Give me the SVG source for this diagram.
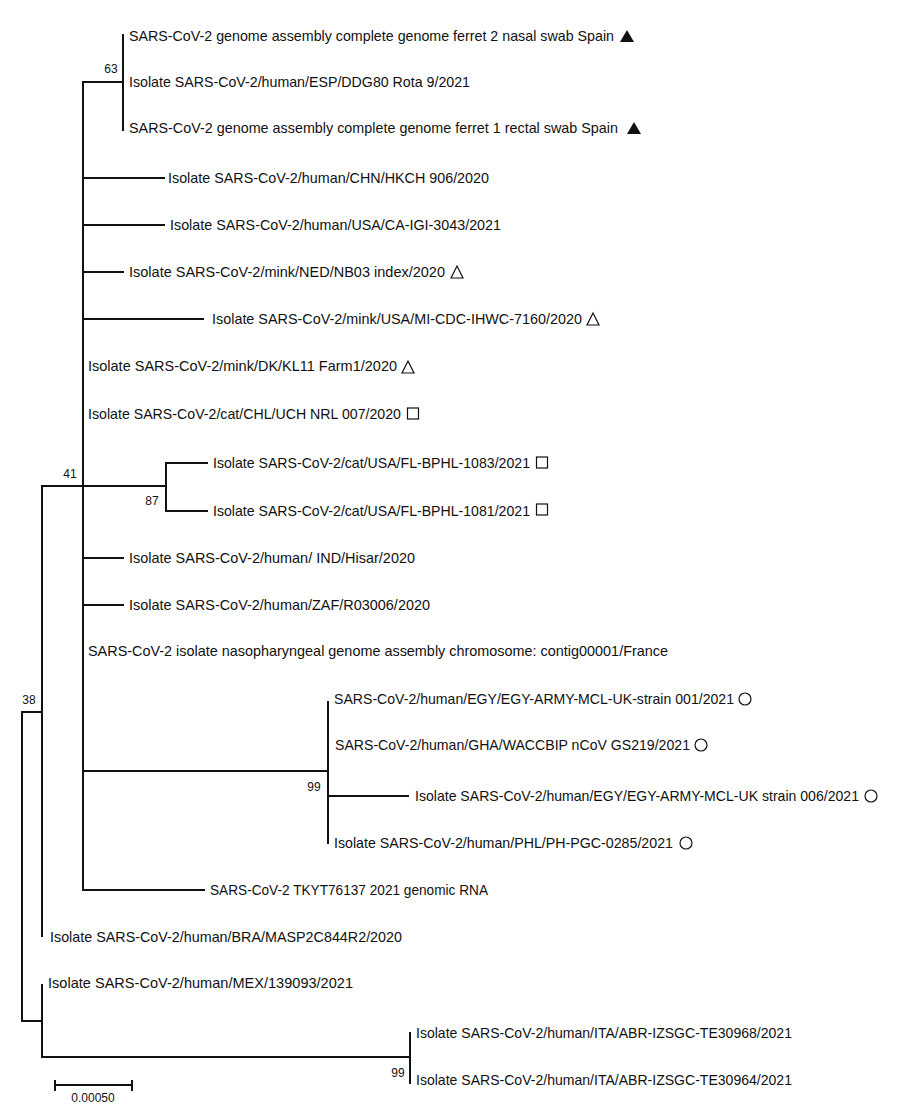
<svg xmlns="http://www.w3.org/2000/svg" width="900" height="1118" viewBox="0 0 900 1118">
<style>
.lbl{font-family:"Liberation Sans",Arial,sans-serif;font-size:14.3px;fill:#111}
.bs{font-family:"Liberation Sans",Arial,sans-serif;font-size:12px;fill:#111;text-anchor:middle}
.br{fill:none;stroke:#111;stroke-width:2;stroke-linecap:square}
.mf{fill:#111}
.mo{fill:none;stroke:#111;stroke-width:1.2}
</style>
<rect width="900" height="1118" fill="#fff"/>
<g id="connectors" class="br">
<path d="M22,712V1021M22,712H42M22,1021H42"/>
<path d="M42,486V936M42,486H83"/>
<path d="M83,82V890M83,82H123M123,35V130"/>
<path d="M83,178H164M83,225H164M83,272H123M83,319H203"/>
<path d="M83,486H166M166,463V511M166,463H207M166,511H207"/>
<path d="M83,558H123M83,605H123"/>
<path d="M83,771H328M328,702V843M328,796H408"/>
<path d="M83,890H204"/>
<path d="M42,985V1057M42,1057H410M410,1033V1083"/>
</g>
<g id="bootstrap">
<text class="bs" x="111" y="73">63</text>
<text class="bs" x="70" y="478">41</text>
<text class="bs" x="152" y="505">87</text>
<text class="bs" x="29" y="704">38</text>
<text class="bs" x="314" y="791">99</text>
<text class="bs" x="398" y="1077">99</text>
</g>
<g id="leaf-ferret2"><text class="lbl" x="129" y="41" textLength="485" lengthAdjust="spacingAndGlyphs">SARS-CoV-2 genome assembly complete genome ferret 2 nasal swab Spain</text><polygon class="mf" points="620,42 634,42 627,30"/></g>
<g id="leaf-esp"><text class="lbl" x="129" y="87" textLength="341" lengthAdjust="spacingAndGlyphs">Isolate SARS-CoV-2/human/ESP/DDG80 Rota 9/2021</text></g>
<g id="leaf-ferret1"><text class="lbl" x="129" y="133" textLength="489" lengthAdjust="spacingAndGlyphs">SARS-CoV-2 genome assembly complete genome ferret 1 rectal swab Spain</text><polygon class="mf" points="627,134 641,134 634,122"/></g>
<g id="leaf-chn"><text class="lbl" x="168" y="183" textLength="321" lengthAdjust="spacingAndGlyphs">Isolate SARS-CoV-2/human/CHN/HKCH 906/2020</text></g>
<g id="leaf-usa-ca"><text class="lbl" x="170" y="230" textLength="331" lengthAdjust="spacingAndGlyphs">Isolate SARS-CoV-2/human/USA/CA-IGI-3043/2021</text></g>
<g id="leaf-ned"><text class="lbl" x="129" y="277" textLength="316" lengthAdjust="spacingAndGlyphs">Isolate SARS-CoV-2/mink/NED/NB03 index/2020</text><polygon class="mo" points="451,278 463,278 457,266"/></g>
<g id="leaf-mi"><text class="lbl" x="212" y="324" textLength="370" lengthAdjust="spacingAndGlyphs">Isolate SARS-CoV-2/mink/USA/MI-CDC-IHWC-7160/2020</text><polygon class="mo" points="587,325 599,325 593,313"/></g>
<g id="leaf-dk"><text class="lbl" x="88" y="371" textLength="309" lengthAdjust="spacingAndGlyphs">Isolate SARS-CoV-2/mink/DK/KL11 Farm1/2020</text><polygon class="mo" points="402,373 414,373 408,361"/></g>
<g id="leaf-chl"><text class="lbl" x="88" y="419" textLength="313" lengthAdjust="spacingAndGlyphs">Isolate SARS-CoV-2/cat/CHL/UCH NRL 007/2020</text><rect class="mo" x="407.5" y="408" width="11" height="11"/></g>
<g id="leaf-fl1083"><text class="lbl" x="213" y="468" textLength="317" lengthAdjust="spacingAndGlyphs">Isolate SARS-CoV-2/cat/USA/FL-BPHL-1083/2021</text><rect class="mo" x="536.5" y="457" width="11" height="11"/></g>
<g id="leaf-fl1081"><text class="lbl" x="213" y="516" textLength="317" lengthAdjust="spacingAndGlyphs">Isolate SARS-CoV-2/cat/USA/FL-BPHL-1081/2021</text><rect class="mo" x="536.5" y="504" width="11" height="11"/></g>
<g id="leaf-ind"><text class="lbl" x="129" y="563" textLength="286" lengthAdjust="spacingAndGlyphs">Isolate SARS-CoV-2/human/ IND/Hisar/2020</text></g>
<g id="leaf-zaf"><text class="lbl" x="129" y="610" textLength="301" lengthAdjust="spacingAndGlyphs">Isolate SARS-CoV-2/human/ZAF/R03006/2020</text></g>
<g id="leaf-france"><text class="lbl" x="88" y="656" textLength="580" lengthAdjust="spacingAndGlyphs">SARS-CoV-2 isolate nasopharyngeal genome assembly chromosome: contig00001/France</text></g>
<g id="leaf-egy001"><text class="lbl" x="334" y="704" textLength="400" lengthAdjust="spacingAndGlyphs">SARS-CoV-2/human/EGY/EGY-ARMY-MCL-UK-strain 001/2021</text><circle class="mo" cx="745" cy="699" r="6"/></g>
<g id="leaf-gha"><text class="lbl" x="335" y="750" textLength="355" lengthAdjust="spacingAndGlyphs">SARS-CoV-2/human/GHA/WACCBIP nCoV GS219/2021</text><circle class="mo" cx="701" cy="745" r="6"/></g>
<g id="leaf-egy006"><text class="lbl" x="415" y="801" textLength="444" lengthAdjust="spacingAndGlyphs">Isolate SARS-CoV-2/human/EGY/EGY-ARMY-MCL-UK strain 006/2021</text><circle class="mo" cx="871" cy="796" r="6"/></g>
<g id="leaf-phl"><text class="lbl" x="334" y="848" textLength="339" lengthAdjust="spacingAndGlyphs">Isolate SARS-CoV-2/human/PHL/PH-PGC-0285/2021</text><circle class="mo" cx="686" cy="843" r="6"/></g>
<g id="leaf-tkyt"><text class="lbl" x="210" y="895" textLength="278" lengthAdjust="spacingAndGlyphs">SARS-CoV-2 TKYT76137 2021 genomic RNA</text></g>
<g id="leaf-bra"><text class="lbl" x="50" y="942" textLength="352" lengthAdjust="spacingAndGlyphs">Isolate SARS-CoV-2/human/BRA/MASP2C844R2/2020</text></g>
<g id="leaf-mex"><text class="lbl" x="48" y="988" textLength="305" lengthAdjust="spacingAndGlyphs">Isolate SARS-CoV-2/human/MEX/139093/2021</text></g>
<g id="leaf-ita968"><text class="lbl" x="416" y="1038" textLength="376" lengthAdjust="spacingAndGlyphs">Isolate SARS-CoV-2/human/ITA/ABR-IZSGC-TE30968/2021</text></g>
<g id="leaf-ita964"><text class="lbl" x="416" y="1085" textLength="376" lengthAdjust="spacingAndGlyphs">Isolate SARS-CoV-2/human/ITA/ABR-IZSGC-TE30964/2021</text></g>
<g id="scale-bar">
<path class="br" d="M55,1085H132M55,1081V1090M132,1081V1090"/>
<text class="bs" x="93" y="1102">0.00050</text>
</g>
</svg>
